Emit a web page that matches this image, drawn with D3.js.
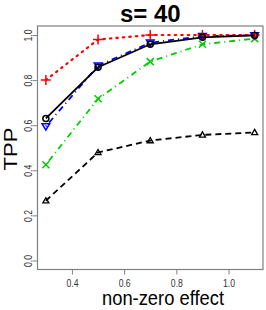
<!DOCTYPE html>
<html lang="en">
<head>
<meta charset="UTF-8">
<title>TPP s=40</title>
<style>
  body { margin: 0; background: #fff; }
  svg { display: block; font-family: "Liberation Sans", Arial, sans-serif; }
</style>
</head>
<body>
<div class="chart"></div>
<script src="https://d3js.org/d3.v7.min.js"></script>
<script>
const effects = [0.3, 0.5, 0.7, 0.9, 1.1];
const redPlus = [0.80, 0.98, 1.0, 1.0, 1.0];
const blackCircle = [0.63, 0.857, 0.959, 0.99, 0.998];
const blueTri = [0.595, 0.864, 0.966, 0.995, 0.999];
const greenX = [0.425, 0.717, 0.882, 0.959, 0.984];
const blackTri = [0.265, 0.479, 0.532, 0.557, 0.568];
const xTicks = [0.4, 0.6, 0.8, 1.0];
const yTicks = [0.0, 0.2, 0.4, 0.6, 0.8, 1.0];

const width = 266, height = 310;
const box = { left: 37.5, right: 263, top: 26, bottom: 269.5 };

const svg = d3.select('.chart').append('svg')
  .attr('width', width).attr('height', height);

// R-style 4% padding
const x = d3.scaleLinear().domain([0.268, 1.132]).range([box.left, box.right]);
const y = d3.scaleLinear().domain([-0.04, 1.04]).range([box.bottom, box.top]);

const axisColor = '#808080';

svg.append('rect')
  .attr('x', box.left).attr('y', box.top)
  .attr('width', box.right - box.left).attr('height', box.bottom - box.top)
  .attr('fill', 'none').attr('stroke', axisColor).attr('stroke-width', 1.2);

// x axis
const xAxis = svg.append('g').attr('transform', `translate(0,${box.bottom})`)
  .call(d3.axisBottom(x).tickValues(xTicks).tickSize(5).tickFormat(d3.format('.1f')));
xAxis.select('.domain').remove();
xAxis.selectAll('line').attr('stroke', axisColor);
xAxis.selectAll('text').attr('font-size', 10).attr('fill', '#333')
  .attr('font-family', '"Liberation Sans", Arial, sans-serif')
  .attr('y', 17).attr('dy', null)
  .attr('textLength', 12).attr('lengthAdjust', 'spacingAndGlyphs');

// y axis, labels rotated like R's las=0
const yAxis = svg.append('g').attr('transform', `translate(${box.left},0)`)
  .call(d3.axisLeft(y).tickValues(yTicks).tickSize(5).tickFormat(d3.format('.1f')));
yAxis.select('.domain').remove();
yAxis.selectAll('line').attr('stroke', axisColor);
yAxis.selectAll('text')
  .attr('font-size', 10).attr('fill', '#333')
  .attr('font-family', '"Liberation Sans", Arial, sans-serif')
  .attr('x', null).attr('dy', null)
  .attr('text-anchor', 'middle')
  .attr('transform', 'translate(-6,0) rotate(-90)')
  .attr('textLength', 12).attr('lengthAdjust', 'spacingAndGlyphs');

svg.append('text').attr('x', (box.left + box.right) / 2).attr('y', 22)
  .attr('text-anchor', 'middle').attr('font-size', 24).attr('font-weight', 'bold')
  .text('s= 40');

svg.append('text').attr('x', 163).attr('y', 305)
  .attr('text-anchor', 'middle').attr('font-size', 19.5)
  .attr('textLength', 122).attr('lengthAdjust', 'spacingAndGlyphs')
  .text('non-zero effect');

svg.append('text')
  .attr('transform', `translate(16.5,149) rotate(-90)`)
  .attr('text-anchor', 'middle').attr('font-size', 18)
  .attr('textLength', 43).attr('lengthAdjust', 'spacingAndGlyphs')
  .text('TPP');

const series = [
  { values: blackTri, color: '#000', dash: '6,4', shape: 'up' },
  { values: greenX, color: '#00cd00', dash: '1,4,6,4', shape: 'x' },
  { values: blueTri, color: '#0000ff', dash: '1,4,6,4', shape: 'down' },
  { values: redPlus, color: '#ff0000', dash: '1.5,5', shape: 'plus' },
  { values: blackCircle, color: '#000', dash: null, shape: 'circle' }
];

const line = d3.line().x((d, i) => x(effects[i])).y(d => y(d));

series.forEach(s => {
  svg.append('path')
    .attr('d', line(s.values))
    .attr('fill', 'none')
    .attr('stroke', s.color)
    .attr('stroke-width', s.shape === 'plus' ? 2.2 : 1.8)
    .attr('stroke-dasharray', s.dash)
    .attr('stroke-linecap', s.shape === 'plus' ? 'round' : 'butt');

  const g = svg.append('g');
  s.values.forEach((v, i) => {
    const cx = x(effects[i]), cy = y(v);
    const m = g.append('g').attr('transform', `translate(${cx},${cy})`);
    if (s.shape === 'circle') {
      m.append('circle').attr('r', 3).attr('fill', 'none').attr('stroke', s.color).attr('stroke-width', 1.5);
    } else if (s.shape === 'plus') {
      m.append('path').attr('d', 'M-5,0H5M0,-5V5').attr('stroke', s.color).attr('stroke-width', 1.5);
    } else if (s.shape === 'x') {
      m.append('path').attr('d', 'M-3.5,-3.5L3.5,3.5M-3.5,3.5L3.5,-3.5').attr('stroke', s.color).attr('stroke-width', 1.5);
    } else if (s.shape === 'down') {
      m.append('path').attr('d', 'M-3.8,-2.6L3.8,-2.6L0,3.8Z').attr('fill', 'none').attr('stroke', s.color).attr('stroke-width', 1.5);
    } else if (s.shape === 'up') {
      m.append('path').attr('d', 'M-3,2.2L3,2.2L0,-3Z').attr('fill', 'none').attr('stroke', s.color).attr('stroke-width', 1.3);
    }
  });
});
</script>
</body>
</html>
